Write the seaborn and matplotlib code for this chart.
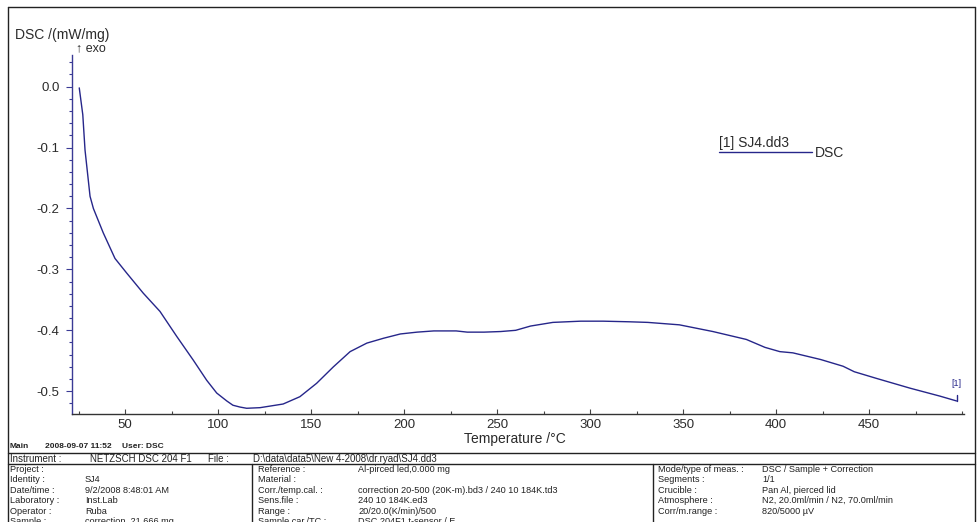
import matplotlib
matplotlib.use("Agg")
import matplotlib.pyplot as plt
from matplotlib.lines import Line2D
from matplotlib.ticker import MultipleLocator
import seaborn as sns
import pandas as pd

# DSC trace: temperature (°C) and heat flow (mW/mg)
temperature = [25.4, 27.3, 28.5, 31.2, 33.0, 38.3, 44.6, 50.9, 59.8, 68.8, 77.8,
               86.7, 93.9, 99.3, 104.7, 108.0, 111.8, 115.4, 122.6, 135.0, 144.0,
               153.0, 162.0, 171.0, 180.0, 189.0, 198.0, 207.0, 216.0, 228.0, 234.0,
               243.0, 252.0, 260.0, 268.0, 280.0, 295.0, 307.0, 321.0, 331.0, 348.0,
               366.0, 384.0, 394.0, 402.0, 409.0, 424.0, 436.0, 442.0, 454.0, 472.0,
               488.0, 497.0]
dsc = [-0.002, -0.046, -0.104, -0.180, -0.200, -0.240, -0.282, -0.306, -0.339, -0.369,
       -0.410, -0.449, -0.482, -0.503, -0.516, -0.523, -0.526, -0.528, -0.527, -0.521,
       -0.509, -0.487, -0.460, -0.435, -0.421, -0.413, -0.406, -0.403, -0.401, -0.401,
       -0.403, -0.403, -0.402, -0.400, -0.393, -0.387, -0.385, -0.385, -0.386, -0.387,
       -0.391, -0.402, -0.415, -0.428, -0.435, -0.437, -0.448, -0.459, -0.468, -0.479,
       -0.495, -0.508, -0.516]

x_ticks = [50, 100, 150, 200, 250, 300, 350, 400, 450]
x_tick_labels = ["50", "100", "150", "200", "250", "300", "350", "400", "450"]
y_ticks = [0.0, -0.1, -0.2, -0.3, -0.4, -0.5]
y_tick_labels = ["0.0", "-0.1", "-0.2", "-0.3", "-0.4", "-0.5"]

curve_name = "[1] SJ4.dd3"
curve_kind = "DSC"

info_main = ["Main", "2008-09-07 11:52", "User: DSC"]
instrument_row = ["Instrument :", "NETZSCH DSC 204 F1", "File :",
                  "D:\\data\\data5\\New 4-2008\\dr.ryad\\SJ4.dd3"]
col1_labels = ["Project :", "Identity :", "Date/time :", "Laboratory :", "Operator :", "Sample :"]
col1_values = ["", "SJ4", "9/2/2008 8:48:01 AM", "Inst.Lab", "Ruba", "correction, 21.666 mg"]
col2_labels = ["Reference :", "Material :", "Corr./temp.cal. :", "Sens.file :", "Range :",
               "Sample car./TC :"]
col2_values = ["Al-pirced led,0.000 mg", "",
               "correction 20-500 (20K-m).bd3 / 240 10 184K.td3", "240 10 184K.ed3",
               "20/20.0(K/min)/500", "DSC 204F1 t-sensor / E"]
col3_labels = ["Mode/type of meas. :", "Segments :", "Crucible :", "Atmosphere :",
               "Corr/m.range :"]
col3_values = ["DSC / Sample + Correction", "1/1", "Pan Al, pierced lid",
               "N2, 20.0ml/min / N2, 70.0ml/min", "820/5000 \u00b5V"]

sns.set_theme(style="white")
plt.rcParams["font.family"] = ["Liberation Sans", "DejaVu Sans"]

W, H = 977, 522
LINE_C = "#26268a"
TEXT_C = "#2b2b2b"
INFO_C = "#222222"


def fx(px):
    return px / W


def fy(py):
    return 1 - py / H


fig = plt.figure(figsize=(W / 100, H / 100), dpi=100)
fig.patch.set_facecolor("white")

ax = fig.add_axes([fx(72), fy(414), (964 - 72) / W, (414 - 55) / H])
df = pd.DataFrame({"Temperature": temperature, "DSC": dsc})
sns.lineplot(data=df, x="Temperature", y="DSC", sort=False, estimator=None,
             color=LINE_C, linewidth=1.0, ax=ax)

# end-of-curve marker
ax.plot([temperature[-1], temperature[-1]], [dsc[-1], dsc[-1] + 0.01],
        color=LINE_C, linewidth=1.0)
ax.annotate("[1]", xy=(temperature[-1], dsc[-1]), xytext=(0, 9),
            textcoords="offset points", ha="center", va="bottom",
            fontsize=6.5, color=LINE_C)

ax.set_xlim(21.5, 501)
ax.set_ylim(-0.5374, 0.052)
ax.set_xlabel("")
ax.set_ylabel("")
ax.set_facecolor("white")

ax.set_xticks(x_ticks)
ax.set_xticklabels(x_tick_labels)
ax.set_yticks(y_ticks)
ax.set_yticklabels(y_tick_labels)
ax.xaxis.set_minor_locator(MultipleLocator(25))
ax.yaxis.set_minor_locator(MultipleLocator(0.02))

ax.tick_params(axis="x", which="major", direction="in", length=3.5, width=0.8,
               color="#444444", labelsize=9.5, labelcolor=TEXT_C, pad=3.5, bottom=True)
ax.tick_params(axis="x", which="minor", direction="in", length=2, width=0.8,
               color="#444444", bottom=True)
ax.tick_params(axis="y", which="major", direction="out", length=4, width=0.8,
               color="#3a3a95", labelsize=9.5, labelcolor=TEXT_C, pad=5, left=True)
ax.tick_params(axis="y", which="minor", direction="out", length=2.5, width=0.8,
               color="#3a3a95", left=True)

for side in ("top", "right"):
    ax.spines[side].set_visible(False)
ax.spines["left"].set_color("#3a3a95")
ax.spines["left"].set_linewidth(1.0)
ax.spines["bottom"].set_color("#333333")
ax.spines["bottom"].set_linewidth(1.0)

# axis titles
fig.text(fx(15), fy(35), "DSC /(mW/mg)", ha="left", va="center", fontsize=10, color=TEXT_C)
fig.text(fx(76), fy(48), "\u2191 exo", ha="left", va="center", fontsize=9, color=TEXT_C)
fig.text(fx(515), fy(439.5), "Temperature /\u00b0C", ha="center", va="center",
         fontsize=10, color=TEXT_C)

# legend entry
fig.text(fx(719), fy(143), curve_name, ha="left", va="center", fontsize=10, color=TEXT_C)
fig.add_artist(Line2D([fx(719), fx(812)], [fy(152), fy(152)], color=LINE_C,
                      linewidth=1.0, transform=fig.transFigure))
fig.text(fx(815), fy(153), curve_kind, ha="left", va="center", fontsize=10, color=TEXT_C)


def hline(y, x0=8, x1=975, lw=1.0):
    fig.add_artist(Line2D([fx(x0), fx(x1)], [fy(y), fy(y)], color=INFO_C,
                          linewidth=lw, transform=fig.transFigure))


def vline(x, y0, y1=530, lw=1.0):
    fig.add_artist(Line2D([fx(x), fx(x)], [fy(y0), fy(y1)], color=INFO_C,
                          linewidth=lw, transform=fig.transFigure))


# outer frame
hline(7)
vline(8, 7)
vline(975, 7)

# measurement info block
for xp, txt in zip([10, 45, 122], info_main):
    fig.text(fx(xp), fy(447), txt, fontsize=6, weight="bold", va="center", color=INFO_C)

hline(453)
for xp, txt in zip([10, 90, 208, 253], instrument_row):
    fig.text(fx(xp), fy(458.5), txt, fontsize=7, va="center", color=INFO_C)
hline(463.5)
vline(252, 463.5)
vline(653, 463.5)

rows_y = [469.5, 480.0, 490.3, 500.7, 511.0, 521.4]
for yy, lab, val in zip(rows_y, col1_labels, col1_values):
    fig.text(fx(10), fy(yy), lab, fontsize=6.6, va="center", color=INFO_C)
    fig.text(fx(85), fy(yy), val, fontsize=6.6, va="center", color=INFO_C)
for yy, lab, val in zip(rows_y, col2_labels, col2_values):
    fig.text(fx(258), fy(yy), lab, fontsize=6.6, va="center", color=INFO_C)
    fig.text(fx(358), fy(yy), val, fontsize=6.6, va="center", color=INFO_C)
for yy, lab, val in zip(rows_y, col3_labels, col3_values):
    fig.text(fx(658), fy(yy), lab, fontsize=6.6, va="center", color=INFO_C)
    fig.text(fx(762), fy(yy), val, fontsize=6.6, va="center", color=INFO_C)

fig.savefig("out.png", dpi=100)
